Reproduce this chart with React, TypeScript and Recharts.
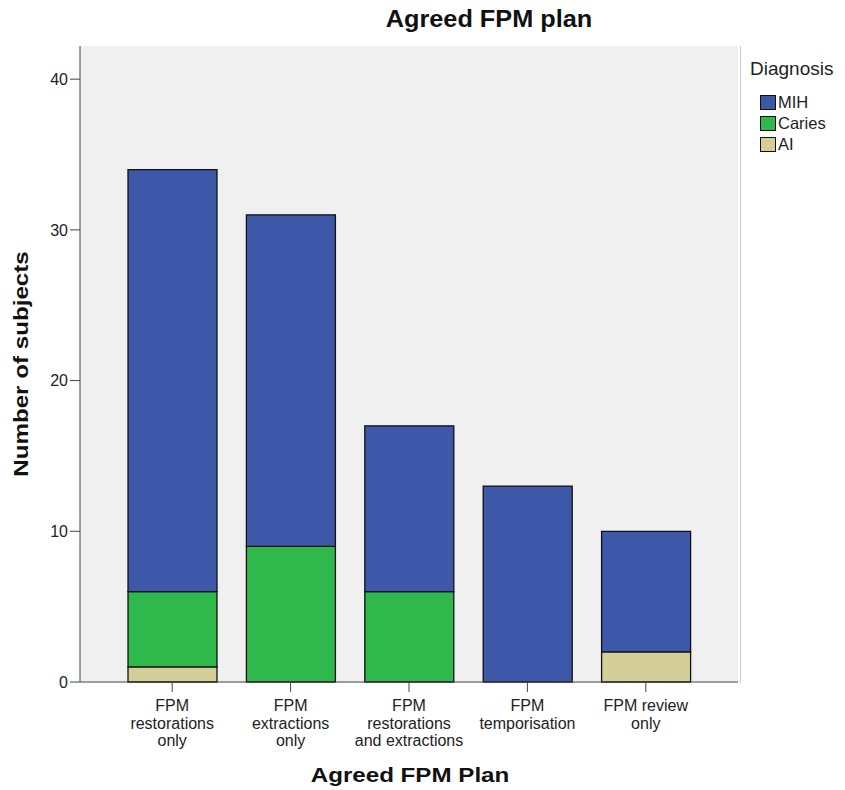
import { Bar, BarChart, XAxis, YAxis, CartesianGrid } from 'recharts';

const plans = [
  'FPM\nrestorations\nonly',
  'FPM\nextractions\nonly',
  'FPM\nrestorations\nand extractions',
  'FPM\ntemporisation',
  'FPM review\nonly',
];
const aiCounts = [1, 0, 0, 0, 2];
const cariesCounts = [5, 9, 6, 0, 0];
const mihCounts = [28, 22, 11, 13, 8];
const yTicks = [0, 10, 20, 30, 40];

const series = [
  { key: 'AI', name: 'AI', color: '#d4cf99' },
  { key: 'Caries', name: 'Caries', color: '#2fb84c' },
  { key: 'MIH', name: 'MIH', color: '#3d57a9' },
];

const data = plans.map((plan, i) => ({
  plan,
  AI: aiCounts[i],
  Caries: cariesCounts[i],
  MIH: mihCounts[i],
}));

const font = '"Liberation Sans", Arial, sans-serif';
const frame = '#444';

// multi-line category labels, SPSS style tight leading
function PlanTick({ x, y, payload }: any) {
  const lines = String(payload.value).split('\n');
  return (
    <text x={x} y={y + 17} textAnchor="middle" fill="#222" fontSize={16} fontFamily={font}>
      {lines.map((line, i) => (
        <tspan key={i} x={x} dy={i === 0 ? 0 : 17.5}>
          {line}
        </tspan>
      ))}
    </text>
  );
}

const boldTitle = { fontWeight: 'bold' as const, color: '#111', lineHeight: 1, whiteSpace: 'nowrap' as const };

export default function App() {
  return (
    <div style={{ position: 'absolute', left: 0, top: 0, width: 845, height: 790, background: '#fff', fontFamily: font }}>
      <BarChart
        width={845}
        height={790}
        data={data}
        margin={{ top: 46, right: 107, bottom: 38, left: 40 }}
      >
        <CartesianGrid horizontal={false} vertical={false} fill="#f0f0f0" />
        <XAxis
          dataKey="plan"
          height={70}
          interval={0}
          padding={{ left: 33, right: 33 }}
          tick={<PlanTick />}
          tickLine={{ stroke: frame }}
          tickSize={10}
          axisLine={{ stroke: frame }}
        />
        <XAxis xAxisId="top" orientation="top" height={0} tick={false} tickLine={false} axisLine={{ stroke: frame }} />
        <YAxis
          width={40}
          domain={[0, 42.2]}
          ticks={yTicks}
          tick={{ fill: '#222', fontSize: 16, fontFamily: font }}
          tickLine={{ stroke: frame }}
          tickSize={10}
          tickMargin={2}
          axisLine={{ stroke: frame }}
        />
        <YAxis yAxisId="right" orientation="right" width={0} tick={false} tickLine={false} axisLine={{ stroke: frame }} />
        {series.map((s) => (
          <Bar
            key={s.key}
            dataKey={s.key}
            name={s.name}
            stackId="a"
            fill={s.color}
            stroke="#111"
            strokeWidth={1.3}
            barSize={89}
            isAnimationActive={false}
          />
        ))}
      </BarChart>

      <div style={{ ...boldTitle, position: 'absolute', left: 489, top: 8, fontSize: 23, transform: 'translateX(-50%) scaleX(1.1)' }}>
        Agreed FPM plan
      </div>
      <div style={{ ...boldTitle, position: 'absolute', left: 410, top: 764, fontSize: 21, transform: 'translateX(-50%) scaleX(1.15)' }}>
        Agreed FPM Plan
      </div>
      <div
        style={{
          ...boldTitle,
          position: 'absolute',
          left: 20,
          top: 364,
          fontSize: 21,
          transform: 'translate(-50%, -50%) rotate(-90deg) scaleX(1.15)',
        }}
      >
        Number of subjects
      </div>

      <div style={{ position: 'absolute', left: 740, top: 46, height: 637, borderLeft: '1px solid #ccc' }} />
      <div style={{ position: 'absolute', left: 750, top: 59, color: '#222' }}>
        <div style={{ fontSize: 19, lineHeight: 1, marginBottom: 14 }}>Diagnosis</div>
        {[...series].reverse().map((s) => (
          <div key={s.key} style={{ display: 'flex', alignItems: 'center', height: 21, marginLeft: 10, fontSize: 16.5 }}>
            <span style={{ width: 14, height: 13, background: s.color, border: '1px solid #111', marginRight: 2 }} />
            {s.name}
          </div>
        ))}
      </div>
    </div>
  );
}
